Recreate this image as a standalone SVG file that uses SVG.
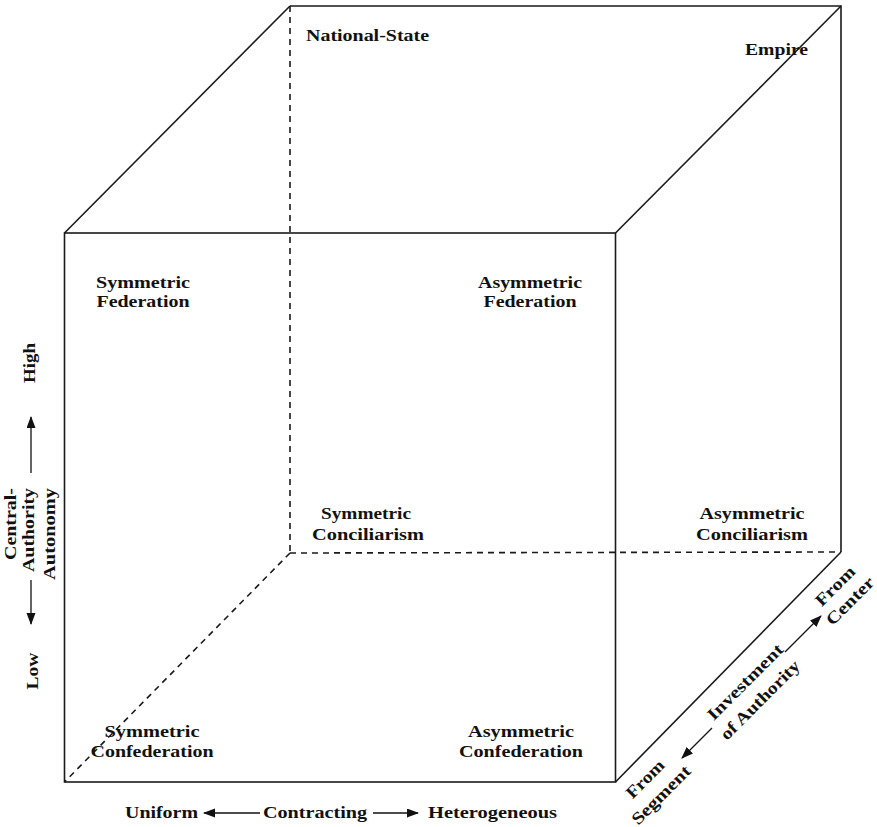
<svg xmlns="http://www.w3.org/2000/svg" width="877" height="827" viewBox="0 0 877 827">
<style>
.t{font-family:"Liberation Serif","Times New Roman",serif;font-weight:bold;font-size:17px;fill:#111}
.m{text-anchor:middle}
.e{text-anchor:end}
.edge{stroke:#1a1a1a;stroke-width:1.6;fill:none}
.dash{stroke:#1a1a1a;stroke-width:1.6;fill:none;stroke-dasharray:6 5}
.ax{stroke:#111;stroke-width:1.3;fill:none;marker-end:url(#ah)}
</style>
<defs>
<marker id="ah" markerUnits="userSpaceOnUse" markerWidth="12" markerHeight="10" refX="11" refY="4.5" orient="auto">
<path d="M0,0 L12,4.5 L0,9 z" fill="#111"/>
</marker>
</defs>
<rect width="877" height="827" fill="#fff"/>
<g id="connectors">
<rect class="edge" x="64.5" y="233" width="551" height="549"/>
<path class="edge" d="M290,6 L841,6 L841,552"/>
<path class="edge" d="M64.5,233 L290,6"/>
<path class="edge" d="M615.5,233 L841,6"/>
<path class="edge" d="M615.5,782 L841,552"/>
<path class="dash" d="M290,6 L290,553"/>
<path class="dash" d="M290,553 L841,552"/>
<path class="dash" d="M290,553 L64.5,782"/>
<line class="ax" x1="31" y1="473" x2="31" y2="417"/>
<line class="ax" x1="31" y1="580" x2="31" y2="624"/>
<line class="ax" x1="260" y1="813" x2="204" y2="813"/>
<line class="ax" x1="373" y1="813" x2="418" y2="813"/>
<line class="ax" x1="785" y1="652" x2="821" y2="616"/>
<line class="ax" x1="712" y1="728" x2="682" y2="758"/>
</g>
<g id="national-state"><text class="t" x="306" y="41" textLength="123" lengthAdjust="spacingAndGlyphs">National-State</text></g>
<g id="empire"><text class="t" x="745" y="55" textLength="63" lengthAdjust="spacingAndGlyphs">Empire</text></g>
<g id="symmetric-federation">
<text class="t m" x="143" y="288" textLength="94" lengthAdjust="spacingAndGlyphs">Symmetric</text>
<text class="t m" x="143" y="307" textLength="93" lengthAdjust="spacingAndGlyphs">Federation</text>
</g>
<g id="asymmetric-federation">
<text class="t m" x="530" y="288" textLength="104" lengthAdjust="spacingAndGlyphs">Asymmetric</text>
<text class="t m" x="530" y="307" textLength="93" lengthAdjust="spacingAndGlyphs">Federation</text>
</g>
<g id="symmetric-conciliarism">
<text class="t m" x="366" y="519" textLength="90" lengthAdjust="spacingAndGlyphs">Symmetric</text>
<text class="t m" x="368" y="540" textLength="112" lengthAdjust="spacingAndGlyphs">Conciliarism</text>
</g>
<g id="asymmetric-conciliarism">
<text class="t m" x="752" y="519" textLength="105" lengthAdjust="spacingAndGlyphs">Asymmetric</text>
<text class="t m" x="752" y="540" textLength="112" lengthAdjust="spacingAndGlyphs">Conciliarism</text>
</g>
<g id="symmetric-confederation">
<text class="t m" x="152" y="737" textLength="95" lengthAdjust="spacingAndGlyphs">Symmetric</text>
<text class="t m" x="152" y="757" textLength="123" lengthAdjust="spacingAndGlyphs">Confederation</text>
</g>
<g id="asymmetric-confederation">
<text class="t m" x="521" y="737" textLength="106" lengthAdjust="spacingAndGlyphs">Asymmetric</text>
<text class="t m" x="521" y="757" textLength="124" lengthAdjust="spacingAndGlyphs">Confederation</text>
</g>
<g id="axis-horizontal">
<text class="t" x="125" y="818" textLength="73" lengthAdjust="spacingAndGlyphs">Uniform</text>
<text class="t" x="263" y="818" textLength="104" lengthAdjust="spacingAndGlyphs">Contracting</text>
<text class="t" x="428" y="818" textLength="129" lengthAdjust="spacingAndGlyphs">Heterogeneous</text>
</g>
<g id="axis-vertical">
<text class="t m" transform="translate(35,363) rotate(-90)" textLength="40" lengthAdjust="spacingAndGlyphs">High</text>
<text class="t e" transform="translate(16,488) rotate(-90)" textLength="72" lengthAdjust="spacingAndGlyphs" style="text-anchor:start" x="-72">Central-</text>
<text class="t" transform="translate(34,488) rotate(-90)" x="-84" textLength="84" lengthAdjust="spacingAndGlyphs">Authority</text>
<text class="t" transform="translate(55,488) rotate(-90)" x="-92" textLength="92" lengthAdjust="spacingAndGlyphs">Autonomy</text>
<text class="t m" transform="translate(38,671) rotate(-90)" textLength="37" lengthAdjust="spacingAndGlyphs">Low</text>
</g>
<g id="axis-depth">
<text class="t m" transform="translate(839,590) rotate(-45)" textLength="49" lengthAdjust="spacingAndGlyphs">From</text>
<text class="t m" transform="translate(854,605) rotate(-45)" textLength="61" lengthAdjust="spacingAndGlyphs">Center</text>
<text class="t m" transform="translate(749,686) rotate(-45)" textLength="100" lengthAdjust="spacingAndGlyphs">Investment</text>
<text class="t m" transform="translate(764,704) rotate(-45)" textLength="105" lengthAdjust="spacingAndGlyphs">of Authority</text>
<text class="t m" transform="translate(649,783) rotate(-45)" textLength="47" lengthAdjust="spacingAndGlyphs">From</text>
<text class="t m" transform="translate(665,799) rotate(-45)" textLength="76" lengthAdjust="spacingAndGlyphs">Segment</text>
</g>
</svg>
